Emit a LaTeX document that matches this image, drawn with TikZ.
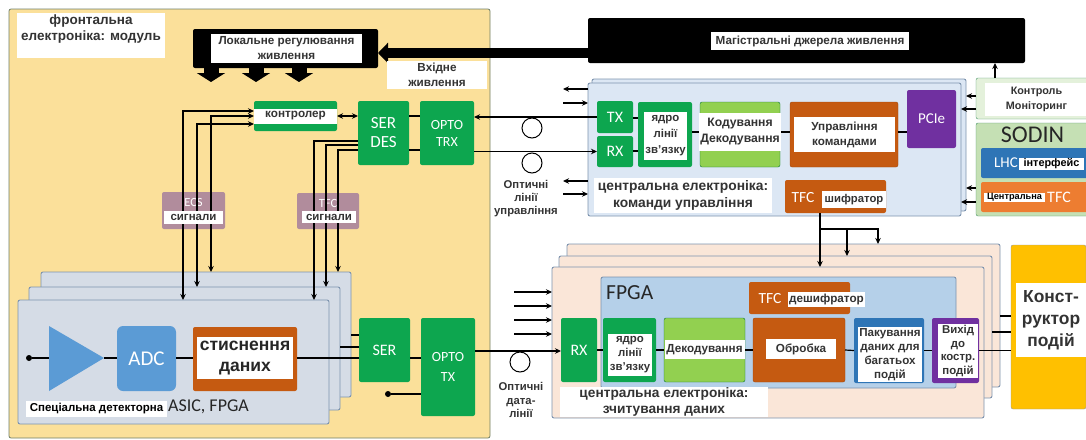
\documentclass[tikz,border=0pt]{standalone}
\usepackage{fontspec}
\setmainfont{Liberation Sans}
\newfontfamily\calfont{Carlito}
\usetikzlibrary{arrows.meta}

\definecolor{moduleyellow}{HTML}{FBE09A}
\definecolor{modulegray}{HTML}{6F7F68}
\definecolor{stackgray}{HTML}{D5DCE6}
\definecolor{stackedge}{HTML}{7C93AE}
\definecolor{ampblue}{HTML}{5B9BD5}
\definecolor{linkgreen}{HTML}{0DA64F}
\definecolor{limegreen}{HTML}{92D050}
\definecolor{rustbrown}{HTML}{C55A11}
\definecolor{pciepurple}{HTML}{7030A0}
\definecolor{sigmauve}{HTML}{B18C9C}
\definecolor{centralblue}{HTML}{DCE7F4}
\definecolor{fpgablue}{HTML}{B5D0E9}
\definecolor{readoutpeach}{HTML}{FAE6D8}
\definecolor{sodingreen}{HTML}{C5E0B4}
\definecolor{ctrlgreen}{HTML}{E4F1DB}
\definecolor{lhcblue}{HTML}{2E75B6}
\definecolor{tfcorange}{HTML}{ED7D31}
\definecolor{builderyellow}{HTML}{FFC000}

\tikzset{
    wh/.style 2 args={minimum width=#1pt, minimum height=#2pt},
    block/.style={rectangle, rounded corners=2pt, inner sep=0pt, outer sep=0pt},
    stackbox/.style={block, draw=stackedge, line width=0.9pt},
    wlabel/.style={fill=white, inner sep=0pt, outer sep=0pt, align=center, text=black!80,
        font=\bfseries\fontsize{11.7}{15}\selectfont},
    ctext/.style={text=white, inner sep=0pt, align=center, font=\calfont\fontsize{16}{20}\selectfont},
    sig/.style={line width=1.2pt},
    fat/.style={line width=10pt, -{Triangle[length=10pt,width=20pt]}},
    fatdown/.style={line width=15pt, -{Triangle[length=9pt,width=28pt]}}
}

\begin{document}
\begin{tikzpicture}[x=1pt, y=-1pt, >={Stealth[length=6pt,width=5.5pt]}]
\useasboundingbox (0,0) rectangle (1086,439);

% Front-end module
\node[block, draw=modulegray, line width=0.8pt, fill=moduleyellow, wh={481}{429}] (module) at (249.5,223.5) {};
\node[fill=white, inner sep=0pt, wh={148}{45}] (moduletitlebox) at (91,35.5) {};
\node[inner sep=0pt, align=center, text=black!80, font=\bfseries\fontsize{13.5}{16}\selectfont] (moduletitle) at (91,29) {фронтальна\\електроніка: модуль};

% Power supplies
\node[block, fill=black, wh={185}{39}] (localreg) at (285.5,48.5) {};
\node[wlabel, wh={151}{29}] (localreglabel) at (286.5,48.5) {Локальне регулювання\\живлення};
\node[block, fill=black, wh={437}{45}] (mainpower) at (806.5,40.5) {};
\node[wlabel, wh={198}{18}, font=\bfseries\fontsize{11.7}{14}\selectfont] (mainpowerlabel) at (810,41) {Магістральні джерела живлення};
\draw[fat] (mainpower.west |- 0,53) -- (localreg.east |- 0,53);
\foreach \x in {211,256,299} {
    \draw[fatdown] (\x,0 |- localreg.south) -- (\x,82);
}
\node[wlabel, wh={100}{28}] (inputpower) at (437,75) {Вхідне\\живлення};

% Detector boards
\node[stackbox, fill=stackgray, wh={310}{125}] (modback) at (196,334.5) {};
\node[stackbox, fill=stackgray, wh={311}{123}] (modmid) at (184.5,348.5) {};
\node[stackbox, fill=stackgray, wh={311}{124}] (modfront) at (173.5,362) {};

% Signal boxes
\node[block, fill=sigmauve, wh={63}{37}] (ecs) at (193.5,210.5) {};
\node[block, fill=sigmauve, wh={62}{36}] (tfcsig) at (328,211) {};
\node[ctext, font=\calfont\fontsize{12.5}{14}\selectfont] (ecsname) at (193.5,202) {ECS};
\node[ctext, font=\calfont\fontsize{12.5}{14}\selectfont] (tfcname) at (328,203) {TFC};

% Front-end blocks
\node[block, fill=linkgreen, wh={83}{30}] (controller) at (295.5,116) {};
\node[block, fill=linkgreen, wh={51}{64}, ctext, font=\calfont\fontsize{17}{19}\selectfont] (serdes) at (383.5,133) {SER\\DES};
\node[block, fill=linkgreen, wh={54}{64}, ctext, font=\calfont\fontsize{14}{17}\selectfont] (optotrx) at (447,133) {OPTO\\TRX};
\node[block, fill=linkgreen, wh={51}{64}, ctext, font=\calfont\fontsize{16}{18}\selectfont] (ser) at (384.5,350) {SER};
\node[block, fill=linkgreen, wh={54}{98}, ctext, font=\calfont\fontsize{14}{20}\selectfont] (optotx) at (448,367) {OPTO\\TX};
\fill[fill=ampblue] (49,326) -- (104,358) -- (49,391) -- cycle;
\coordinate (amptip) at (104,358);
\coordinate (ampin) at (49,358);
\node[block, rounded corners=6pt, fill=ampblue, wh={59}{65}, ctext, font=\calfont\fontsize{21}{24}\selectfont] (adc) at (146.5,358.5) {ADC};
\node[block, fill=rustbrown, wh={104}{64}] (compress) at (245,359) {};
\node[circle, fill=black, inner sep=0pt, minimum size=6pt] (indot) at (29,358) {};
\node[circle, fill=black, inner sep=0pt, minimum size=6pt] (txdot) at (388,394) {};

% Control lines
\foreach \x/\y in {183/111,211/116,197/124} {
    \draw[sig,->] (\x,229) -- (\x,\y) -- (controller.west |- 0,\y);
}
\draw[sig,->] (183,229) -- (183,0 |- modfront.north);
\draw[sig,->] (197,229) -- (197,0 |- modmid.north);
\draw[sig,->] (211,229) -- (211,0 |- modback.north);
\draw[sig,->] (serdes.west |- 0,141) -| (314,0 |- modfront.north);
\draw[sig,->] (serdes.west |- 0,145) -| (326,0 |- modmid.north);
\draw[sig,->] (serdes.west |- 0,150) -| (338,0 |- modback.north);
\draw[sig,<->] (controller.east) -- (serdes.west |- controller.east);
\draw[sig] (serdes.east |- 0,116) -- (optotrx.west |- 0,116);
\draw[sig] (serdes.east |- 0,150) -- (optotrx.west |- 0,150);

% Data path on the boards
\draw[sig] (indot) -- (ampin);
\draw[sig] (amptip) -- (adc.west |- amptip);
\draw[sig] (adc.east |- 0,358) -- (compress.west |- 0,358);
\draw[sig] (compress.east |- 0,358) -- (ser.west |- 0,358);
\draw[sig] (modback.east |- 0,335) -- (ser.west |- 0,335);
\draw[sig] (modmid.east |- 0,347) -- (ser.west |- 0,347);
\draw[sig] (ser.east |- 0,358) -- (optotx.west |- 0,358);
\draw[sig] (txdot) -- (optotx.west |- txdot);

% Labels over the lines
\node[wlabel, wh={83}{15}] (controllerlabel) at (295.5,116) {контролер};
\node[wlabel, wh={59}{13}, font=\bfseries\fontsize{11.5}{13}\selectfont] (ecslabel) at (193.5,217) {сигнали};
\node[wlabel, wh={54}{12}, font=\bfseries\fontsize{11.5}{13}\selectfont] (tfcsiglabel) at (329,217) {сигнали};
\node[wlabel, wh={96}{42}, text=black!85, font=\bfseries\fontsize{17.5}{21}\selectfont] (compresslabel) at (245,358) {стиснення\\даних};
\node[wlabel, wh={141}{16}, text=black, font=\bfseries\fontsize{11.5}{13}\selectfont] (asiclabel) at (96.5,409) {Спеціальна детекторна};
\node[anchor=west, inner sep=0pt, text=black!85, font=\calfont\fontsize{18}{20}\selectfont] (asicname) at (168,407) {ASIC, FPGA};

% Central control electronics
\node[stackbox, fill=centralblue, wh={374}{132}] (ctrlback) at (779,145) {};
\node[stackbox, fill=centralblue, wh={373}{133}] (ctrlfront) at (774.5,149.5) {};
\node[block, fill=linkgreen, wh={36}{32}, ctext] (tx) at (615,117) {TX};
\node[block, fill=linkgreen, wh={36}{31}, ctext] (rx) at (615,151.5) {RX};
\node[block, fill=linkgreen, wh={54}{65}] (linkcore) at (665,134.5) {};
\node[block, draw=linkgreen!70!black, fill=limegreen, wh={80}{65}] (coding) at (740,134.5) {};
\node[block, draw=rustbrown!80!black, fill=rustbrown, wh={108}{65}] (commands) at (844,134.5) {};
\node[block, fill=pciepurple, wh={49}{58}, ctext, font=\calfont\fontsize{15}{18}\selectfont] (pcie) at (931.5,119) {PCIe};
\draw[sig] (tx.east |- 0,118) -- (linkcore.west |- 0,118);
\draw[sig] (rx.east |- 0,151) -- (linkcore.west |- 0,151);
\draw[sig] (linkcore.east |- 0,132) -- (coding.west |- 0,132);
\draw[sig] (coding.east |- 0,132) -- (commands.west |- 0,132);
\draw[sig] (commands.east |- 0,132) -- (pcie.west |- 0,132);
\node[wlabel, wh={43}{48}, font=\bfseries\fontsize{11.4}{16}\selectfont] (linkcorelabel) at (665.5,136) {ядро\\лінії\\зв'язку};
\node[wlabel, wh={82}{38}, font=\bfseries\fontsize{12.2}{16}\selectfont] (codinglabel) at (740,132) {Кодування\\Декодування};
\node[wlabel, wh={101}{35}] (commandslabel) at (844.5,134.5) {Управління\\командами};
\node[wlabel, wh={178}{35}, font=\bfseries\fontsize{13.8}{17}\selectfont] (ctrltitle) at (683,195.5) {центральна електроніка:\\команди управління};
\node[block, fill=rustbrown, wh={101}{33}] (tfcenc) at (835.5,196.5) {};
\node[ctext, font=\calfont\fontsize{15.5}{18}\selectfont] (tfcencname) at (803,197.5) {TFC};
\node[wlabel, wh={64}{17}, font=\bfseries\fontsize{11.3}{13}\selectfont] (tfcenclabel) at (854,199.5) {шифратор};

% Monitoring and SODIN
\node[block, draw=linkgreen!50!gray, fill=ctrlgreen, wh={112}{41}] (monitor) at (1032,98.5) {};
\node[wlabel, wh={103}{33}, font=\bfseries\fontsize{10.8}{15}\selectfont] (monitorlabel) at (1036.5,99.5) {Контроль\\Моніторинг};
\node[block, draw=linkgreen!50!gray, fill=sodingreen, wh={112}{93}] (sodin) at (1032,169.5) {};
\node[text=black!85, inner sep=0pt, font=\calfont\fontsize{24}{26}\selectfont] (sodinname) at (1032.5,135) {SODIN};
\node[block, fill=lhcblue, wh={107}{30}] (lhc) at (1034.5,163) {};
\node[ctext, font=\calfont\fontsize{15}{18}\selectfont] (lhcname) at (1006,163) {LHC};
\node[wlabel, wh={65}{12}, text=black, font=\bfseries\fontsize{10.9}{12}\selectfont] (lhclabel) at (1051.5,164) {інтерфейс};
\node[block, fill=tfcorange, wh={107}{30}] (centraltfc) at (1034.5,197) {};
\node[wlabel, wh={61}{9}, text=black, font=\bfseries\fontsize{9.2}{10}\selectfont] (centraltfclabel) at (1014.5,197.5) {Центральна};
\node[ctext] (centraltfcname) at (1059,197) {TFC};

\draw[sig,->] (995,0 |- monitor.north) -- (995,0 |- mainpower.south);
\draw[sig,->] (monitor.west |- 0,96) -- (ctrlback.east |- 0,96);
\draw[sig,->] (monitor.west |- 0,109) -- (ctrlfront.east |- 0,109);
\draw[sig,->] (sodin.west |- 0,188) -- (ctrlback.east |- 0,188);
\draw[sig,->] (sodin.west |- 0,202) -- (ctrlfront.east |- 0,202);

% Optical control links
\draw[sig,->] (tx.west) -- (optotrx.east |- tx.west);
\draw[sig,->] (optotrx.east |- rx.west) -- (rx.west);
\node[draw=black, line width=1pt, circle, minimum size=20pt, inner sep=0pt] (loopone) at (532,128) {};
\node[draw=black, line width=1pt, circle, minimum size=20pt, inner sep=0pt] (looptwo) at (532,163) {};
\node[inner sep=0pt, align=center, text=black!80, font=\bfseries\fontsize{11.3}{13}\selectfont] (ctrllinks) at (526,199) {Оптичні\\лінії\\управління};
\foreach \y in {89,181} {
    \draw[sig,->] (ctrlfront.west |- 0,\y) -- ++(-25,0);
}
\foreach \y in {103,194} {
    \draw[sig,<-] (ctrlfront.west |- 0,\y) -- ++(-25,0);
}

% Central readout electronics
\node[stackbox, fill=readoutpeach, wh={433}{143}] (readback) at (783.5,315.5) {};
\node[stackbox, fill=readoutpeach, wh={433}{142}] (readmid) at (775.5,327) {};
\node[stackbox, fill=readoutpeach, wh={432}{151}] (readfront) at (768,342.5) {};
\node[stackbox, fill=fpgablue, wh={355}{111}] (fpga) at (778.5,332.5) {};
\node[anchor=west, inner sep=0pt, text=black!85, font=\calfont\fontsize{21.5}{24}\selectfont] (fpganame) at (606,293) {FPGA};
\node[block, fill=rustbrown, wh={101}{32}] (tfcdec) at (799.5,298) {};
\node[ctext, font=\calfont\fontsize{15.5}{18}\selectfont] (tfcdecname) at (770,299) {TFC};
\node[wlabel, wh={77}{15}] (tfcdeclabel) at (826.5,299.5) {дешифратор};
\node[block, fill=linkgreen, wh={36}{64}, ctext] (rxread) at (579,350) {RX};
\node[block, fill=linkgreen, wh={53}{64}] (corered) at (629.5,350) {};
\node[block, draw=linkgreen!70!black, fill=limegreen, wh={81}{64}] (decoding) at (704.5,350) {};
\node[block, draw=rustbrown!80!black, fill=rustbrown, wh={92}{64}] (process) at (799,350) {};
\node[block, fill=lhcblue, wh={70}{65}] (packing) at (889,350.5) {};
\node[block, fill=pciepurple, wh={47}{65}] (outbox) at (955.5,350.5) {};
\node[block, fill=builderyellow, draw=black!40, wh={75}{164}] (builder) at (1048.5,327) {};
\draw[sig] (rxread.east) -- (corered.west);
\draw[sig] (corered.east) -- (decoding.west);
\draw[sig] (decoding.east) -- (process.west);
\draw[sig] (process.east) -- (packing.west);
\draw[sig] (packing.east) -- (outbox.west);
\draw[sig] (outbox.east) -- (builder.west |- outbox.east);
\draw[sig] (readback.east |- 0,316) -- (builder.west |- 0,316);
\draw[sig] (readmid.east |- 0,332) -- (builder.west |- 0,332);
\node[wlabel, wh={44}{42}, font=\bfseries\fontsize{11.4}{14}\selectfont] (coreredlabel) at (630,355) {ядро\\лінії\\зв'язку};
\node[wlabel, wh={80}{19}] (decodinglabel) at (704.5,349.5) {Декодування};
\node[wlabel, wh={70}{20}] (processlabel) at (801,349) {Обробка};
\node[wlabel, wh={64}{55}, font=\bfseries\fontsize{11.6}{14}\selectfont] (packinglabel) at (890,354.5) {Пакування\\даних для\\багатьох\\подій};
\node[wlabel, wh={40}{54}, font=\bfseries\fontsize{11.4}{13.5}\selectfont] (outboxlabel) at (958,351) {Вихід\\до\\костр.\\подій};
\node[wlabel, wh={70}{74}, font=\bfseries\fontsize{17.4}{22}\selectfont] (builderlabel) at (1051,320) {Конст-\\руктор\\подій};
\node[wlabel, wh={208}{30}, font=\bfseries\fontsize{13.7}{16}\selectfont] (readtitle) at (664,402) {центральна електроніка:\\зчитування даних};

% Optical data links
\draw[sig,->] (optotx.east |- 0,351) -- (rxread.west |- 0,351);
\node[draw=black, line width=1pt, circle, minimum size=20pt, inner sep=0pt] (loopdata) at (520,362) {};
\node[inner sep=0pt, align=center, text=black!80, font=\bfseries\fontsize{11.3}{13.5}\selectfont] (datalinks) at (521,400) {Оптичні\\дата-\\лінії};
\foreach \y in {292,306,320,334} {
    \draw[sig,<-] (readfront.west |- 0,\y) -- ++(-38,0);
}

% TFC distribution
\draw[sig,->] (820,0 |- tfcenc.south) -- (820,0 |- readfront.north);
\draw[sig,->] (820,229) -- (878,229) -- (878,0 |- readback.north);
\draw[sig,->] (847,229) -- (847,0 |- readmid.north);

\end{tikzpicture}
\end{document}
